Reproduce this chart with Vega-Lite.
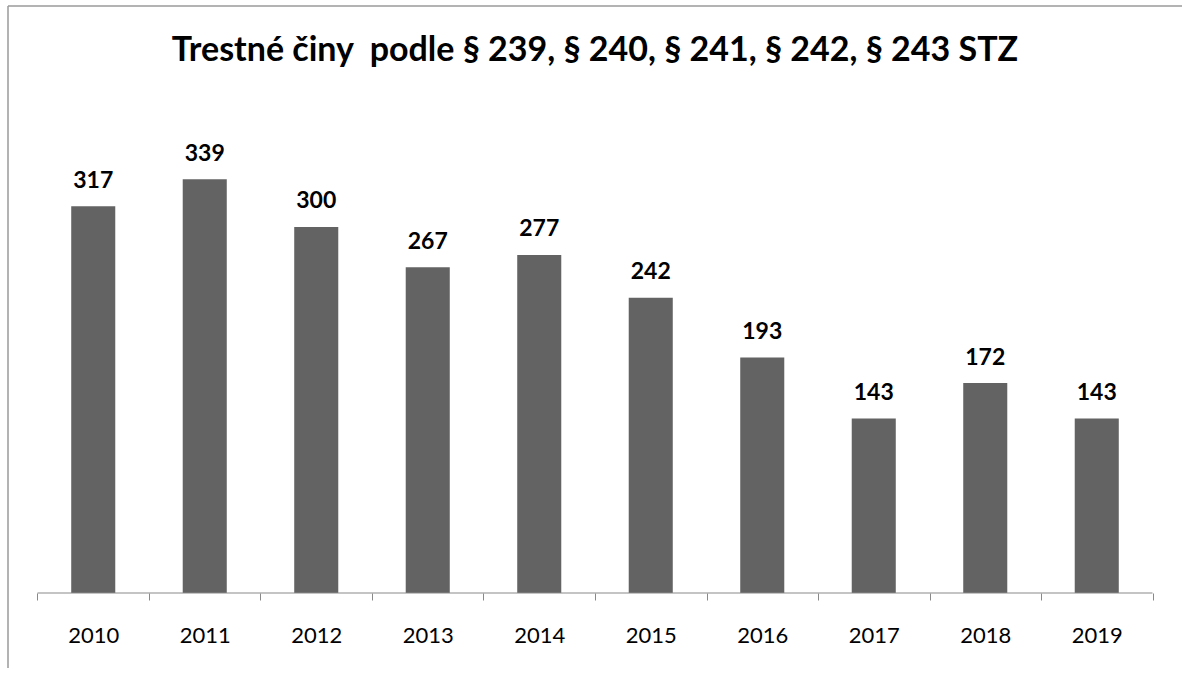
{
  "$schema": "https://vega.github.io/schema/vega-lite/v6.json",
  "width": 1174,
  "height": 662,
  "autosize": {"type": "none"},
  "padding": {"left": 8, "top": 6, "right": 0, "bottom": 0},
  "background": "white",
  "config": {"view": {"stroke": null}, "font": "Lato"},
  "title": {
    "text": "Trestné činy\u00a0 podle § 239, § 240, § 241, § 242, § 243 STZ",
    "font": "Lato",
    "fontSize": 34,
    "fontWeight": "bold",
    "color": "black",
    "anchor": "middle",
    "frame": "group",
    "baseline": "alphabetic",
    "offset": -90
  },
  "datasets": {
    "counts": [
      {"year": "2010", "value": 317},
      {"year": "2011", "value": 339},
      {"year": "2012", "value": 300},
      {"year": "2013", "value": 267},
      {"year": "2014", "value": 277},
      {"year": "2015", "value": 242},
      {"year": "2016", "value": 193},
      {"year": "2017", "value": 143},
      {"year": "2018", "value": 172},
      {"year": "2019", "value": 143}
    ],
    "frame": [{"edge": "frame"}]
  },
  "data": {"name": "counts"},
  "layer": [
    {
      "mark": {"type": "bar", "color": "#636363", "width": {"band": 0.395}},
      "encoding": {
        "x": {
          "field": "year",
          "type": "nominal",
          "sort": null,
          "scale": {"paddingInner": 0, "paddingOuter": 0.2645},
          "axis": {
            "title": null,
            "domain": false,
            "grid": false,
            "tickBand": "extent",
            "tickSize": 7,
            "tickColor": "#898989",
            "tickWidth": 1,
            "labelAngle": 0,
            "labelFont": "Lato",
            "labelFontSize": 22,
            "labelColor": "black",
            "labelBaseline": "alphabetic",
            "labelPadding": 42,
            "offset": -75
          }
        },
        "y": {
          "field": "value",
          "type": "quantitative",
          "scale": {"domain": [-61.45, 481], "nice": false, "zero": false},
          "axis": null
        },
        "y2": {"datum": 0}
      }
    },
    {
      "mark": {"type": "text", "baseline": "alphabetic", "dy": -18.5, "fontSize": 23, "fontWeight": "bold", "font": "Lato", "color": "black"},
      "encoding": {
        "x": {"field": "year", "type": "nominal", "sort": null},
        "y": {"field": "value", "type": "quantitative"},
        "text": {"field": "value", "type": "quantitative"}
      }
    },
    {
      "data": {"name": "frame"},
      "mark": {"type": "rule", "color": "#898989", "strokeWidth": 1},
      "encoding": {
        "x": {"datum": "2010", "type": "nominal", "bandPosition": 0},
        "x2": {"datum": "2019", "bandPosition": 1},
        "y": {"datum": 0, "type": "quantitative"}
      }
    },
    {
      "data": {"name": "frame"},
      "mark": {"type": "rule", "color": "#9a9a9a", "strokeWidth": 1.5},
      "encoding": {
        "x": {"datum": "2010", "type": "nominal", "bandPosition": -0.2645}
      }
    },
    {
      "data": {"name": "frame"},
      "mark": {"type": "rule", "color": "#9a9a9a", "strokeWidth": 1.5},
      "encoding": {
        "y": {"datum": 481, "type": "quantitative"}
      }
    }
  ]
}
